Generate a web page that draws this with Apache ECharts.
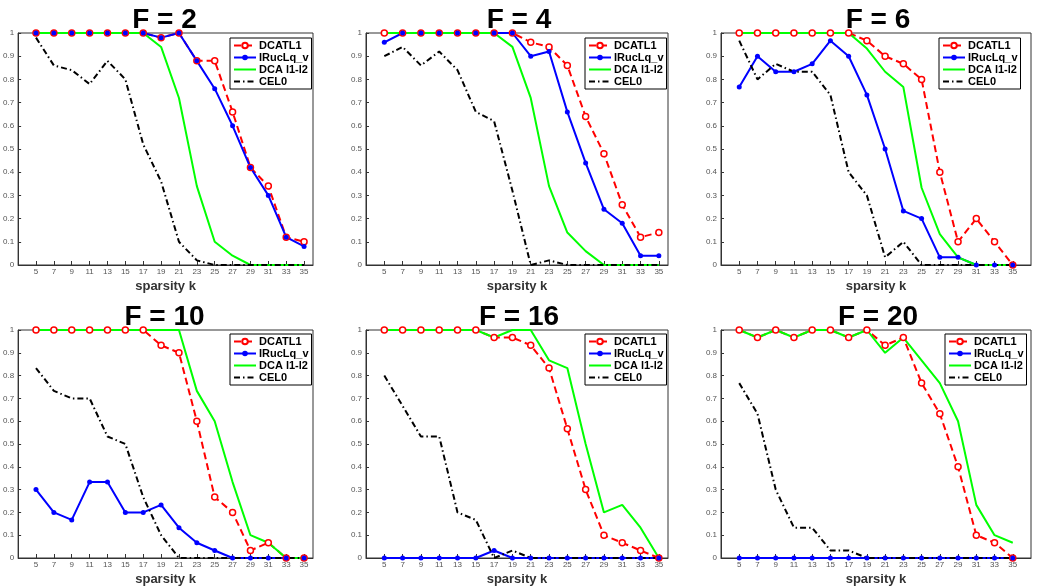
<!DOCTYPE html>
<html>
<head>
<meta charset="utf-8">
<script src="https://cdn.jsdelivr.net/npm/echarts@6/dist/echarts.min.js"></script>
<style>
html, body { margin: 0; padding: 0; background: #fff; }
#chart { width: 1041px; height: 587px; }
</style>
</head>
<body>
<div id="chart"></div>
<script>
// sparsity levels on the x axis
const ks = [5, 7, 9, 11, 13, 15, 17, 19, 21, 23, 25, 27, 29, 31, 33, 35];
const yTicks = [0, 0.1, 0.2, 0.3, 0.4, 0.5, 0.6, 0.7, 0.8, 0.9, 1];
const panelF = [2, 4, 6, 10, 16, 20];
const methodNames = ["DCATL1", "IRucLq_v", "DCA l1-l2", "CEL0"];

// one row per panel (F = 2, 4, 6, 10, 16, 20)
const dcatl1 = [
  [1, 1, 1, 1, 1, 1, 1, 0.98, 1, 0.88, 0.88, 0.66, 0.42, 0.34, 0.12, 0.10],
  [1, 1, 1, 1, 1, 1, 1, 1, 0.96, 0.94, 0.86, 0.64, 0.48, 0.26, 0.12, 0.14],
  [1, 1, 1, 1, 1, 1, 1, 0.967, 0.90, 0.867, 0.80, 0.40, 0.10, 0.20, 0.10, 0],
  [1, 1, 1, 1, 1, 1, 1, 0.933, 0.90, 0.60, 0.267, 0.20, 0.033, 0.067, 0, 0],
  [1, 1, 1, 1, 1, 1, 0.967, 0.967, 0.933, 0.833, 0.567, 0.30, 0.10, 0.067, 0.033, 0],
  [1, 0.967, 1, 0.967, 1, 1, 0.967, 1, 0.933, 0.967, 0.767, 0.633, 0.40, 0.10, 0.067, 0]
];
const irucLq = [
  [1, 1, 1, 1, 1, 1, 1, 0.98, 1, 0.88, 0.76, 0.60, 0.42, 0.30, 0.12, 0.08],
  [0.96, 1, 1, 1, 1, 1, 1, 1, 0.90, 0.92, 0.66, 0.44, 0.24, 0.18, 0.04, 0.04],
  [0.767, 0.90, 0.833, 0.833, 0.867, 0.967, 0.90, 0.733, 0.50, 0.233, 0.20, 0.033, 0.033, 0, 0, 0],
  [0.30, 0.20, 0.167, 0.333, 0.333, 0.20, 0.20, 0.233, 0.133, 0.067, 0.033, 0, 0, 0, 0, 0],
  [0, 0, 0, 0, 0, 0, 0.033, 0, 0, 0, 0, 0, 0, 0, 0, 0],
  [0, 0, 0, 0, 0, 0, 0, 0, 0, 0, 0, 0, 0, 0, 0, 0]
];
const dcaL1L2 = [
  [1, 1, 1, 1, 1, 1, 1, 0.94, 0.72, 0.34, 0.10, 0.04, 0, 0, 0, 0],
  [1, 1, 1, 1, 1, 1, 1, 0.94, 0.72, 0.34, 0.14, 0.06, 0, 0, 0, 0],
  [1, 1, 1, 1, 1, 1, 1, 0.933, 0.833, 0.767, 0.333, 0.133, 0.033, 0, 0, 0],
  [1, 1, 1, 1, 1, 1, 1, 1, 1, 0.733, 0.60, 0.333, 0.10, 0.067, 0, 0],
  [1, 1, 1, 1, 1, 1, 0.967, 1, 1, 0.867, 0.833, 0.50, 0.20, 0.233, 0.133, 0],
  [1, 0.967, 1, 0.967, 1, 1, 0.967, 1, 0.90, 0.967, 0.867, 0.767, 0.60, 0.233, 0.10, 0.067]
];
const cel0 = [
  [0.98, 0.86, 0.84, 0.78, 0.88, 0.80, 0.52, 0.36, 0.10, 0.02, 0, 0, 0, 0, 0, 0],
  [0.90, 0.94, 0.86, 0.92, 0.84, 0.66, 0.62, 0.32, 0, 0.02, 0, 0, 0, 0, 0, 0],
  [0.967, 0.80, 0.867, 0.833, 0.833, 0.733, 0.40, 0.30, 0.033, 0.10, 0, 0, 0, 0, 0, 0],
  [0.833, 0.733, 0.70, 0.70, 0.533, 0.50, 0.267, 0.10, 0, 0, 0, 0, 0, 0, 0, 0],
  [0.80, 0.667, 0.533, 0.533, 0.20, 0.167, 0, 0.033, 0, 0, 0, 0, 0, 0, 0, 0],
  [0.767, 0.633, 0.30, 0.133, 0.133, 0.033, 0.033, 0, 0, 0, 0, 0, 0, 0, 0, 0]
];

const myChart = echarts.init(document.getElementById("chart"));
const axisColor = "#333";
const font = "Liberation Sans, Arial, sans-serif";

// plot boxes: left, top, width, height, x max
const boxes = [
  [12, 33, 301, 232, 36],
  [366, 33, 302, 232, 36],
  [721, 33, 310, 232, 37],
  [12, 330, 301, 232, 36],
  [366, 330, 302, 232, 36],
  [721, 330, 310, 232, 37]
];
const legendPos = [
  [230, 38], [585, 38], [939, 38],
  [230, 334], [585, 334], [945, 334]
];

// legend samples: lines without a marker get an invisible symbol
const noMark = { color: "transparent", borderWidth: 0, opacity: 0 };
const legendData = [
  { name: "DCATL1" },
  { name: "IRucLq_v" },
  { name: "DCA l1-l2", itemStyle: noMark },
  { name: "CEL0", itemStyle: noMark }
];

let grids = [], xAxes = [], yAxes = [], titles = [], legends = [], series = [];

boxes.forEach((b, i) => {
  grids.push({
    left: b[0], top: b[1], width: b[2], height: b[3],
    show: true, borderColor: axisColor, borderWidth: 1, backgroundColor: "transparent"
  });
  xAxes.push({
    type: "value", gridIndex: i, min: 3, max: b[4],
    name: "sparsity k", nameLocation: "middle", nameGap: 15,
    nameTextStyle: { fontFamily: font, fontWeight: "bold", fontSize: 13, color: "#333" },
    axisLine: { lineStyle: { color: axisColor, width: 1 } },
    axisTick: { inside: true, length: 4, customValues: ks, lineStyle: { color: axisColor } },
    axisLabel: { customValues: ks, fontSize: 8, color: "#555", fontFamily: font, margin: 3 },
    splitLine: { show: false }
  });
  yAxes.push({
    type: "value", gridIndex: i, min: 0, max: 1, interval: 0.1,
    axisLine: { show: true, lineStyle: { color: axisColor, width: 1 } },
    axisTick: { show: true, inside: true, length: 3, lineStyle: { color: axisColor } },
    axisLabel: { fontSize: 8, color: "#555", fontFamily: font, margin: 4 },
    splitLine: { show: false }
  });
  titles.push({
    text: "F = " + panelF[i],
    left: b[0] + b[2] / 2 + 2,
    top: b[1] - 27,
    textAlign: "center",
    padding: 0,
    textStyle: { fontFamily: font, fontWeight: "bold", fontSize: 28, lineHeight: 28, color: "#000" }
  });
  legends.push({
    data: legendData,
    orient: "vertical",
    left: legendPos[i][0], top: legendPos[i][1],
    padding: [2, 3, 2, 3],
    itemGap: 1,
    itemWidth: 22,
    itemHeight: 7,
    borderColor: "#000",
    borderWidth: 1,
    borderRadius: 0,
    backgroundColor: "#fff",
    selectedMode: false,
    textStyle: { fontFamily: font, fontWeight: "bold", fontSize: 11, lineHeight: 11, color: "#000", padding: [0, 0, 0, -2] }
  });

  const pts = (arr) => ks.map((k, j) => [k, arr[i][j]]);
  series.push({
    name: "DCATL1", type: "line", xAxisIndex: i, yAxisIndex: i,
    data: pts(dcatl1),
    symbol: "circle", symbolSize: 6,
    itemStyle: { color: "#fff", borderColor: "#ff0000", borderWidth: 1.5 },
    lineStyle: { color: "#ff0000", width: 2, type: [7, 4] }
  });
  series.push({
    name: "IRucLq_v", type: "line", xAxisIndex: i, yAxisIndex: i,
    data: pts(irucLq),
    symbol: "circle", symbolSize: 5,
    itemStyle: { color: "#0000ff" },
    lineStyle: { color: "#0000ff", width: 2 }
  });
  series.push({
    name: "DCA l1-l2", type: "line", xAxisIndex: i, yAxisIndex: i,
    data: pts(dcaL1L2),
    symbol: "none",
    itemStyle: { color: "#00ff00" },
    lineStyle: { color: "#00ff00", width: 2 }
  });
  series.push({
    name: "CEL0", type: "line", xAxisIndex: i, yAxisIndex: i,
    data: pts(cel0),
    symbol: "none",
    itemStyle: { color: "#000" },
    lineStyle: { color: "#000", width: 2, type: [6, 3, 1.5, 3] }
  });
});

myChart.setOption({
  animation: false,
  backgroundColor: "#fff",
  title: titles,
  legend: legends,
  grid: grids,
  xAxis: xAxes,
  yAxis: yAxes,
  series: series
});
</script>
</body>
</html>
